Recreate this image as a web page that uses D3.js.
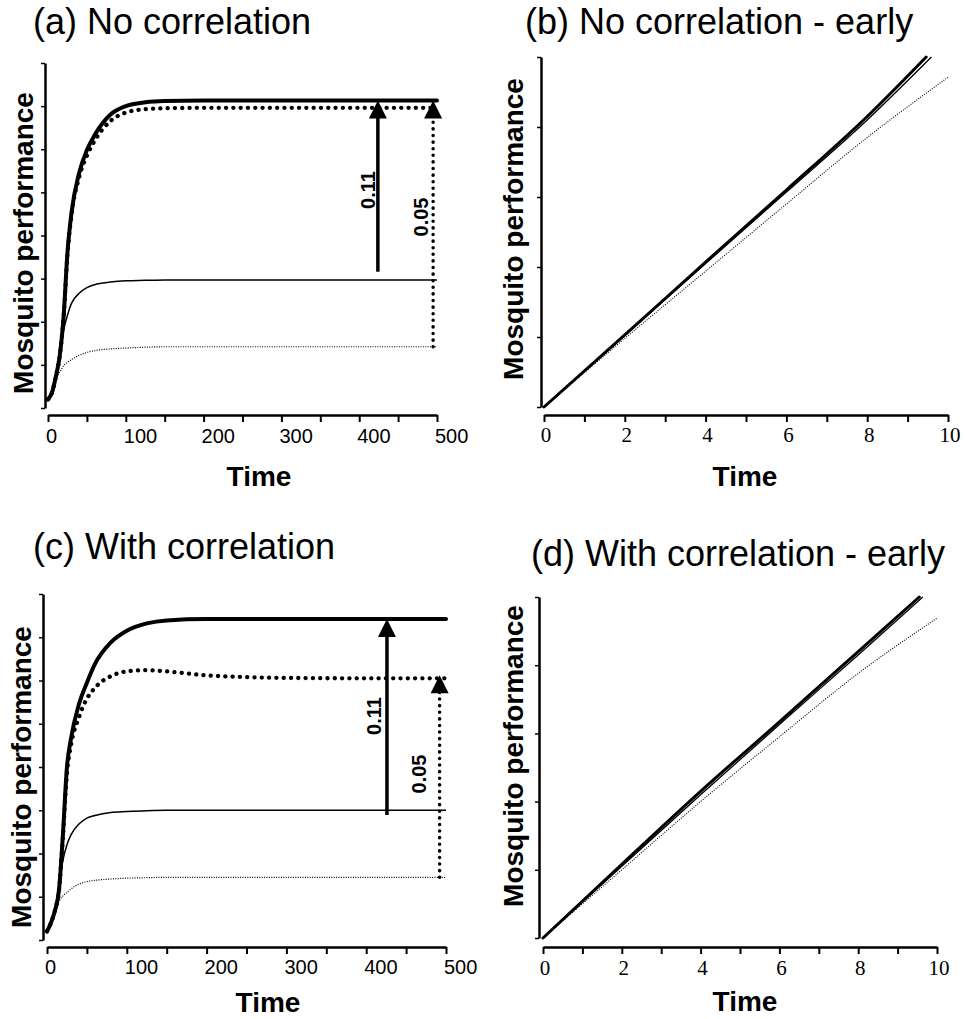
<!DOCTYPE html>
<html>
<head>
<meta charset="utf-8">
<script src="https://cdn.jsdelivr.net/npm/d3@7/dist/d3.min.js"></script>
<style>
  body { margin: 0; background: #fff; }
  svg { display: block; }
  .sans { font-family: Arial, "Liberation Sans", sans-serif; }
  .serif { font-family: "Times New Roman", "Liberation Serif", serif; }
</style>
</head>
<body>
<svg id="chart" width="967" height="1019"></svg>
<script>
// ---- data ----
const timeLong = [0, 5, 10, 15, 20, 25, 30, 40, 50, 60, 80, 100, 125, 150, 200, 300, 400, 500];
const longTicks = [0, 50, 100, 150, 200, 250, 300, 350, 400, 450, 500];
const longLabels = [0, 100, 200, 300, 400, 500];

// (a) no correlation
const aThickSolid  = [0.2, 0.35, 0.72, 1.2, 2.1, 3.6, 4.5, 5.45, 5.98, 6.33, 6.8, 7.0, 7.09, 7.12, 7.13, 7.13, 7.13, 7.13];
const aThickDotted = [0.2, 0.35, 0.72, 1.2, 2.1, 3.55, 4.45, 5.35, 5.85, 6.2, 6.65, 6.85, 6.93, 6.95, 6.96, 6.96, 6.96, 6.96];
const aThinSolid   = [0.2, 0.35, 0.72, 1.25, 1.8, 2.15, 2.42, 2.66, 2.79, 2.86, 2.92, 2.95, 2.96, 2.97, 2.97, 2.97, 2.97, 2.97];
const aThinDotted  = [0.2, 0.35, 0.65, 0.83, 0.98, 1.06, 1.12, 1.22, 1.29, 1.33, 1.37, 1.39, 1.41, 1.42, 1.42, 1.42, 1.42, 1.42];

// (c) with correlation
const cThickSolid  = [0.2, 0.4, 0.68, 1.15, 2.45, 4.0, 4.65, 5.45, 5.95, 6.38, 6.88, 7.15, 7.32, 7.39, 7.42, 7.42, 7.42, 7.42];
const cThickDotted = [0.2, 0.4, 0.68, 1.15, 2.4, 3.85, 4.5, 5.15, 5.58, 5.83, 6.1, 6.21, 6.24, 6.21, 6.12, 6.06, 6.05, 6.05];
const cThinSolid   = [0.2, 0.4, 0.68, 1.3, 1.85, 2.2, 2.43, 2.68, 2.82, 2.88, 2.95, 2.97, 2.99, 3.0, 3.0, 3.0, 3.0, 3.0];
const cThinDotted  = [0.2, 0.4, 0.68, 0.9, 1.02, 1.1, 1.18, 1.29, 1.35, 1.38, 1.41, 1.43, 1.44, 1.45, 1.45, 1.45, 1.45, 1.45];

// arrows: [time, from, to, label, kind]
const aArrows = [[424, 3.16, 7.13, "0.11", "solid"], [495, 1.42, 7.13, "0.05", "dotted"]];
const cArrows = [[426, 2.89, 7.42, "0.11", "solid"], [492, 1.45, 6.12, "0.05", "dotted"]];

// early panels (b) and (d)
const earlyTicks = [0, 1, 2, 3, 4, 5, 6, 7, 8, 9, 10];
const earlyLabels = [0, 2, 4, 6, 8, 10];
const bThickT = [0, 2, 4, 6, 8, 9.46],  bThick = [0, 1.03, 2.07, 3.1, 4.15, 5.0];
const bThinT  = [0, 2, 4, 6, 8, 9.59],  bThin  = [0, 1.02, 2.05, 3.07, 4.1, 5.0];
const bDotT   = [0, 2, 4, 6, 8, 10],    bDot   = [0, 0.98, 1.94, 2.9, 3.85, 4.71];
const dThickT = [0, 2, 4, 6, 8, 9.55],  dThick = [0, 1.08, 2.15, 3.17, 4.2, 5.0];
const dThinT  = [0, 2, 4, 6, 8, 9.64],  dThin  = [0, 1.05, 2.1, 3.13, 4.15, 5.0];
const dDotT   = [0, 2, 4, 6, 8, 10],    dDot   = [0, 1.0, 2.0, 2.95, 3.88, 4.69];

const titles = ["(a) No correlation", "(b) No correlation - early", "(c) With correlation", "(d) With correlation - early"];

// ---- styles ----
const styles = {
  thickSolid:  { w: 4,   dash: null,      cap: "round" },
  thickDotted: { w: 4.3, dash: "0.1 7.2", cap: "round" },
  thinSolid:   { w: 1.5, dash: null,      cap: "butt" },
  thinDotted:  { w: 1.2, dash: "1 1.4",   cap: "butt" },
  eThick:      { w: 3,   dash: null,      cap: "round" },
  eThin:       { w: 1.3, dash: null,      cap: "butt" },
  eDot:        { w: 1.1, dash: "1 1.4",   cap: "butt" }
};

const zip = (ts, vs) => ts.map((t, i) => ({ t, v: vs[i] }));

const panels = [
  { title: titles[0], tx: 33, ty: 34, x0: 48, x1: 437, yAxX: 45, yTop: 63, yBot: 408, xAxY: 415,
    xDom: [0, 500], yDom: [0, 8], yTicks: d3.range(0, 9), ticks: longTicks, labels: longLabels, serif: false,
    labY: 28, timeX: 259, timeY: 486, ylX: 33, ylY: 243,
    series: [
      [zip(timeLong, aThinDotted), "thinDotted"], [zip(timeLong, aThinSolid), "thinSolid"],
      [zip(timeLong, aThickDotted), "thickDotted"], [zip(timeLong, aThickSolid), "thickSolid"]],
    arrows: aArrows, arrowLab: [[375, 190], [428, 217]] },
  { title: titles[1], tx: 525, ty: 34, x0: 544, x1: 948, yAxX: 541, yTop: 57, yBot: 407, xAxY: 415,
    xDom: [0, 10], yDom: [0, 5], yTicks: d3.range(0, 6), ticks: earlyTicks, labels: earlyLabels, serif: true,
    labY: 27, timeX: 745, timeY: 486, ylX: 523, ylY: 229,
    series: [
      [zip(bDotT, bDot), "eDot"], [zip(bThinT, bThin), "eThin"], [zip(bThickT, bThick), "eThick"]],
    arrows: [], arrowLab: [] },
  { title: titles[2], tx: 33, ty: 559, x0: 47, x1: 446, yAxX: 43, yTop: 594, yBot: 940, xAxY: 947,
    xDom: [0, 500], yDom: [0, 8], yTicks: d3.range(0, 9), ticks: longTicks, labels: longLabels, serif: false,
    labY: 27, timeX: 268, timeY: 1012, ylX: 31, ylY: 777,
    series: [
      [zip(timeLong, cThinDotted), "thinDotted"], [zip(timeLong, cThinSolid), "thinSolid"],
      [zip(timeLong, cThickDotted), "thickDotted"], [zip(timeLong, cThickSolid), "thickSolid"]],
    arrows: cArrows, arrowLab: [[381, 716], [426, 774]] },
  { title: titles[3], tx: 531, ty: 566, x0: 543, x1: 937, yAxX: 539, yTop: 597, yBot: 938, xAxY: 947,
    xDom: [0, 10], yDom: [0, 5], yTicks: d3.range(0, 6), ticks: earlyTicks, labels: earlyLabels, serif: true,
    labY: 28, timeX: 745, timeY: 1011, ylX: 523, ylY: 756,
    series: [
      [zip(dDotT, dDot), "eDot"], [zip(dThinT, dThin), "eThin"], [zip(dThickT, dThick), "eThick"]],
    arrows: [], arrowLab: [] }
];

const svg = d3.select("#chart");
svg.append("rect").attr("width", 967).attr("height", 1019).attr("fill", "#fff");

panels.forEach(p => {
  const g = svg.append("g");
  const x = d3.scaleLinear().domain(p.xDom).range([p.x0, p.x1]);
  const y = d3.scaleLinear().domain(p.yDom).range([p.yBot, p.yTop]);

  // title
  g.append("text").attr("class", "sans")
    .attr("x", p.tx).attr("y", p.ty)
    .attr("font-size", 36).attr("fill", "#000")
    .text(p.title);

  // y axis (no labels)
  const yAx = g.append("g")
    .attr("transform", `translate(${p.yAxX},0)`)
    .call(d3.axisLeft(y).tickValues(p.yTicks).tickSize(4).tickSizeOuter(0).tickFormat(""));
  yAx.select(".domain").attr("stroke-width", 2.5);
  yAx.selectAll(".tick line").attr("stroke-width", 1.5);

  // x axis
  const xAx = g.append("g")
    .attr("transform", `translate(0,${p.xAxY})`)
    .call(d3.axisBottom(x).tickValues(p.ticks).tickSize(7).tickSizeOuter(0).tickFormat(""));
  xAx.select(".domain").attr("stroke-width", 2.5);
  xAx.selectAll(".tick line").attr("stroke-width", 2);

  // x tick labels
  g.selectAll(null).data(p.labels).enter().append("text")
    .attr("class", p.serif ? "serif" : "sans")
    .attr("x", d => p.serif ? x(d) + 2 : x(d) - 2)
    .attr("y", p.xAxY + p.labY)
    .attr("text-anchor", p.serif ? "middle" : "start")
    .attr("font-size", p.serif ? 21 : 20)
    .text(d => d);

  // axis titles
  g.append("text").attr("class", "sans")
    .attr("x", p.timeX).attr("y", p.timeY)
    .attr("text-anchor", "middle").attr("font-size", 28).attr("font-weight", "bold")
    .text("Time");
  g.append("text").attr("class", "sans")
    .attr("transform", `translate(${p.ylX},${p.ylY}) rotate(-90)`)
    .attr("text-anchor", "middle").attr("font-size", 28).attr("font-weight", "bold")
    .text("Mosquito performance");

  // curves
  const line = d3.line().x(d => x(d.t)).y(d => y(d.v)).curve(d3.curveMonotoneX);
  p.series.forEach(([data, key]) => {
    const s = styles[key];
    g.append("path").datum(data)
      .attr("fill", "none").attr("stroke", "#000")
      .attr("stroke-width", s.w)
      .attr("stroke-linecap", s.cap)
      .attr("stroke-linejoin", "round")
      .attr("stroke-dasharray", s.dash)
      .attr("d", line);
  });

  // arrows
  const headH = 18, headW = 9;
  p.arrows.forEach((a, i) => {
    const [t, from, to, lab, kind] = a;
    const ax = x(t), yTip = y(to), yFrom = y(from);
    g.append("line")
      .attr("x1", ax).attr("x2", ax)
      .attr("y1", yFrom).attr("y2", yTip + headH - 1)
      .attr("stroke", "#000")
      .attr("stroke-width", 3.5)
      .attr("stroke-linecap", kind === "solid" ? "butt" : "round")
      .attr("stroke-dasharray", kind === "solid" ? null : "0.1 6.5");
    g.append("path")
      .attr("d", `M${ax},${yTip}L${ax + headW},${yTip + headH}L${ax - headW},${yTip + headH}Z`)
      .attr("fill", "#000");
    const [lx, ly] = p.arrowLab[i];
    g.append("text").attr("class", "sans")
      .attr("transform", `translate(${lx},${ly}) rotate(-90)`)
      .attr("text-anchor", "middle").attr("font-size", 20).attr("font-weight", "bold")
      .text(lab);
  });
});
</script>
</body>
</html>
